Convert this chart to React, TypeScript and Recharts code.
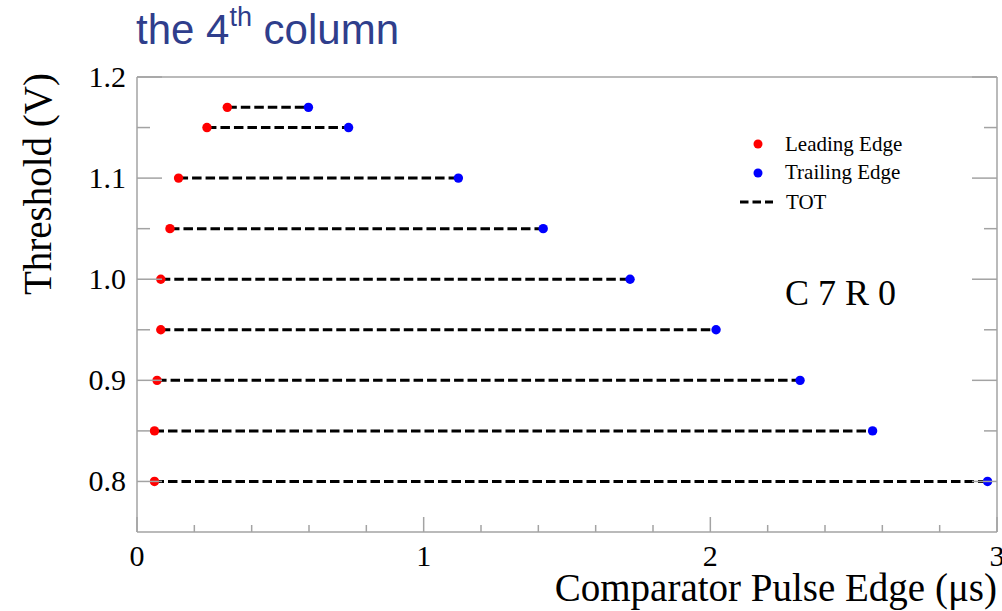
import React from 'react';
import { ScatterChart, Scatter, XAxis, YAxis, Legend } from 'recharts';

const W = 1002;
const H = 611;
const FRAME = '#a3a3a3';
const SERIF = '"Liberation Serif", "Times New Roman", serif';
const SANS = '"Liberation Sans", Arial, sans-serif';
const RED = '#ff0000';
const BLUE = '#0000ff';

// threshold scan, pixel C7 R0
const thresholds = [1.17, 1.15, 1.1, 1.05, 1.0, 0.95, 0.9, 0.85, 0.8];
const leadingEdge = [0.315, 0.244, 0.145, 0.115, 0.083, 0.083, 0.07, 0.061, 0.061];
const trailingEdge = [0.598, 0.738, 1.121, 1.417, 1.72, 2.02, 2.313, 2.566, 2.967];

const xTicks = [0, 0.2, 0.4, 0.6, 0.8, 1, 1.2, 1.4, 1.6, 1.8, 2, 2.2, 2.4, 2.6, 2.8, 3];
const xMajor = [0, 1, 2, 3];
const yTicks = [0.8, 0.85, 0.9, 0.95, 1.0, 1.05, 1.1, 1.15, 1.2];
const yMajor = [0.8, 0.9, 1.0, 1.1, 1.2];

const leadingPoints = thresholds.map((t, i) => ({ x: leadingEdge[i], y: t }));
const trailingPoints = thresholds.map((t, i) => ({ x: trailingEdge[i], y: t }));
const totSegments = thresholds.map((t, i) => [
  { x: leadingEdge[i], y: t },
  { x: trailingEdge[i], y: t },
]);

const isMajor = (v: number, majors: number[]) => majors.some((m) => Math.abs(m - v) < 1e-6);

// ROOT-style ticks: drawn inward from the frame, long for majors, short for minors
function BottomTick({ x, y, payload }: any) {
  const major = isMajor(payload.value, xMajor);
  return (
    <g>
      <line x1={x} x2={x} y1={y} y2={y - (major ? 15 : 7)} stroke={FRAME} strokeWidth={1.5} />
      {major && (
        <text x={x} y={y + 34} textAnchor="middle" fontFamily={SERIF} fontSize={30} fill="#000">
          {payload.value}
        </text>
      )}
    </g>
  );
}

function TopTick({ x, y, payload }: any) {
  const major = isMajor(payload.value, xMajor);
  return <line x1={x} x2={x} y1={y} y2={y + (major ? 15 : 7)} stroke={FRAME} strokeWidth={1.5} />;
}

function LeftTick({ x, y, payload }: any) {
  const major = isMajor(payload.value, yMajor);
  return (
    <g>
      <line x1={x} x2={x + (major ? 25 : 13)} y1={y} y2={y} stroke={FRAME} strokeWidth={1.5} />
      {major && (
        <text x={x - 11} y={y + 10} textAnchor="end" fontFamily={SERIF} fontSize={30} fill="#000">
          {Number(payload.value).toFixed(1)}
        </text>
      )}
    </g>
  );
}

function RightTick({ x, y, payload }: any) {
  const major = isMajor(payload.value, yMajor);
  return <line x1={x} x2={x - (major ? 25 : 13)} y1={y} y2={y} stroke={FRAME} strokeWidth={1.5} />;
}

function LegendBox() {
  return (
    <svg width={180} height={90} style={{ display: 'block' }}>
      <circle cx={23} cy={16} r={4.5} fill={RED} />
      <text x={50} y={23} fontFamily={SERIF} fontSize={21} fill="#000">Leading Edge</text>
      <circle cx={23} cy={45} r={4.5} fill={BLUE} />
      <text x={50} y={51} fontFamily={SERIF} fontSize={21} fill="#000">Trailing Edge</text>
      <line x1={5} x2={38} y1={74} y2={74} stroke="#000" strokeWidth={3} strokeDasharray="8.5 4" />
      <text x={51} y={81} fontFamily={SERIF} fontSize={21} fill="#000">TOT</text>
    </svg>
  );
}

const dot = (color: string) => (p: any) => <circle cx={p.cx} cy={p.cy} r={4.7} fill={color} />;

export default function App() {
  const axisLine = { stroke: FRAME, strokeWidth: 1.5 };
  return (
    <div style={{ position: 'absolute', left: 0, top: 0, width: W, height: H, background: '#fff', overflow: 'hidden' }}>
      <ScatterChart width={W} height={H} margin={{ top: 57, right: 0, bottom: 39, left: 57 }}>
        <XAxis
          type="number"
          dataKey="x"
          domain={[0, 3]}
          ticks={xTicks}
          interval={0}
          height={40}
          tickSize={0}
          tickMargin={0}
          tickLine={false}
          axisLine={axisLine}
          tick={<BottomTick />}
          allowDataOverflow
        />
        <XAxis
          xAxisId="top"
          orientation="top"
          type="number"
          domain={[0, 3]}
          ticks={xTicks}
          interval={0}
          height={20}
          tickSize={0}
          tickMargin={0}
          tickLine={false}
          axisLine={axisLine}
          tick={<TopTick />}
          allowDataOverflow
        />
        <YAxis
          type="number"
          dataKey="y"
          domain={[0.75, 1.2]}
          ticks={yTicks}
          interval={0}
          width={80}
          tickSize={0}
          tickMargin={0}
          tickLine={false}
          axisLine={axisLine}
          tick={<LeftTick />}
          allowDataOverflow
        />
        <YAxis
          yAxisId="right"
          orientation="right"
          type="number"
          domain={[0.75, 1.2]}
          ticks={yTicks}
          interval={0}
          width={5}
          tickSize={0}
          tickMargin={0}
          tickLine={false}
          axisLine={axisLine}
          tick={<RightTick />}
          allowDataOverflow
        />
        <Legend
          layout="horizontal"
          verticalAlign="middle"
          align="center"
          wrapperStyle={{ left: 735, top: 128, width: 180 }}
          content={<LegendBox />}
        />
        {totSegments.map((seg, i) => (
          <Scatter
            key={`tot-${i}`}
            data={seg}
            line={{ stroke: '#000', strokeWidth: 3, strokeDasharray: '9.5 4' }}
            shape={() => <g />}
            legendType="none"
            isAnimationActive={false}
          />
        ))}
        <Scatter name="Leading Edge" data={leadingPoints} fill={RED} shape={dot(RED)} isAnimationActive={false} />
        <Scatter name="Trailing Edge" data={trailingPoints} fill={BLUE} shape={dot(BLUE)} isAnimationActive={false} />
      </ScatterChart>
      <svg width={W} height={H} style={{ position: 'absolute', left: 0, top: 0, pointerEvents: 'none' }}>
        <text x={136} y={44} fontFamily={SANS} fontSize={42} fill="#2f3e8c">
          the 4
          <tspan fontSize={27} dy={-18}>th</tspan>
          <tspan dy={18}> column</tspan>
        </text>
        <text
          x={50.5}
          y={184}
          transform="rotate(-90 50.5 184)"
          textAnchor="middle"
          fontFamily={SERIF}
          fontSize={39}
          fill="#000"
        >
          Threshold (V)
        </text>
        <text x={997} y={601} textAnchor="end" fontFamily={SERIF} fontSize={39} fill="#000">
          Comparator Pulse Edge (μs)
        </text>
        <text x={785} y={305} fontFamily={SERIF} fontSize={36} fill="#000">
          C 7 R 0
        </text>
      </svg>
    </div>
  );
}
